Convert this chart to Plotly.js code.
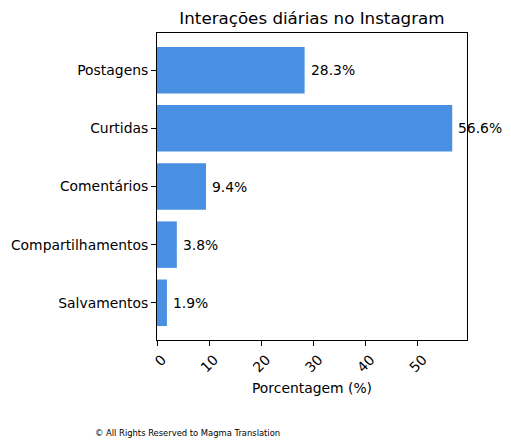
<!DOCTYPE html>
<html>
<head>
<meta charset="utf-8">
<script src="https://cdn.plot.ly/plotly-3.0.1.min.js"></script>
<style>
  html, body { margin: 0; padding: 0; background: #fff; }
  #chart { width: 511px; height: 447px; }
</style>
</head>
<body>
<div id="chart"></div>
<script>
/* Interações diárias no Instagram - horizontal bars */

const CATEGORIES = ['Postagens', 'Curtidas', 'Comentários', 'Compartilhamentos', 'Salvamentos'];
const PERCENTS   = [28.3, 56.6, 9.4, 3.8, 1.9];
const X_TICKS    = [0, 10, 20, 30, 40, 50];

const BAR_COLOR = '#4a90e2';
const FONT = 'DejaVu Sans, sans-serif';

const labels = PERCENTS.map((v, i) => ({
    x: v, y: CATEGORIES[i],
    text: v.toFixed(1) + '%',
    xanchor: 'left', yanchor: 'middle',
    xshift: 4,
    showarrow: false,
    font: { size: 13.9, color: '#000', family: FONT }
}));

labels.push({
    text: '© All Rights Reserved to Magma Translation',
    xref: 'paper', yref: 'paper',
    x: -0.206, y: -0.304,
    xanchor: 'left', yanchor: 'middle',
    showarrow: false,
    font: { size: 8.4, color: '#000', family: FONT }
});

Plotly.newPlot('chart', [{
    type: 'bar',
    orientation: 'h',
    x: PERCENTS,
    y: CATEGORIES,
    width: 0.8,
    marker: { color: BAR_COLOR },
    hoverinfo: 'none'
}], {
    width: 511, height: 447,
    paper_bgcolor: '#fff',
    plot_bgcolor: '#fff',
    font: { family: FONT, color: '#000', size: 13.9 },
    margin: { l: 157, r: 44, t: 33, b: 107 },
    showlegend: false,
    title: {
        text: 'Interações diárias no Instagram',
        x: 0.6105, xanchor: 'center',
        y: 0.96, yanchor: 'middle',
        font: { size: 16.7, family: FONT, color: '#000' }
    },
    xaxis: {
        range: [0, 59.43],
        tickvals: X_TICKS,
        ticktext: X_TICKS.map(String),
        tickangle: -45,
        ticklabelshift: 5,
        ticks: 'outside', ticklen: 5, tickwidth: 1, tickcolor: '#000',
        showline: true, linecolor: '#000', linewidth: 1, mirror: true,
        showgrid: false, zeroline: false,
        tickfont: { size: 13.9, family: FONT },
        title: { text: 'Porcentagem (%)', standoff: 8, font: { size: 13.9, family: FONT } }
    },
    yaxis: {
        type: 'category',
        categoryorder: 'array',
        categoryarray: CATEGORIES,
        range: [4.64, -0.64],
        ticks: 'outside', ticklen: 5, tickwidth: 1, tickcolor: '#000',
        showline: true, linecolor: '#000', linewidth: 1, mirror: true,
        showgrid: false, zeroline: false,
        ticklabelstandoff: 0,
        tickfont: { size: 13.9, family: FONT }
    },
    annotations: labels
}, { displayModeBar: false, staticPlot: true });
</script>
</body>
</html>
